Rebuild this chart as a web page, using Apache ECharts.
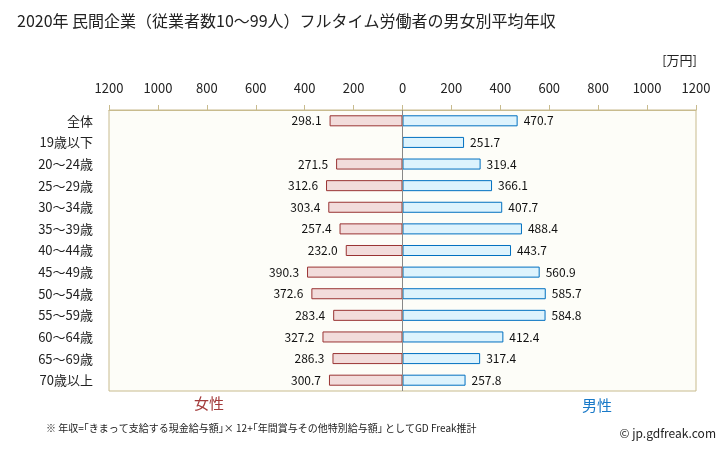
<!DOCTYPE html>
<html><head><meta charset="utf-8">
<script src="https://cdn.jsdelivr.net/npm/echarts@6/dist/echarts.min.js"></script>
<style>html,body{margin:0;padding:0;background:#fff}#c{width:728px;height:451px}</style>
</head><body><div id="c"></div>
<script>
const categories = ['全体','19歳以下','20～24歳','25～29歳','30～34歳','35～39歳','40～44歳','45～49歳','50～54歳','55～59歳','60～64歳','65～69歳','70歳以上'];
const female = [298.1, null, 271.5, 312.6, 303.4, 257.4, 232.0, 390.3, 372.6, 283.4, 327.2, 286.3, 300.7];
const male = [470.7, 251.7, 319.4, 366.1, 407.7, 488.4, 443.7, 560.9, 585.7, 584.8, 412.4, 317.4, 257.8];
const axisMax = 1200;
const axisStep = 200;

const FONT = '"Noto Sans CJK JP", "Noto Sans", sans-serif';
const chart = echarts.init(document.getElementById('c'));
chart.setOption({
  animation: false,
  backgroundColor: '#ffffff',
  textStyle: { fontFamily: FONT },
  grid: { left: 109, right: 32, top: 110, bottom: 60, show: true, backgroundColor: '#fdfdf8', borderColor: '#c8bb8e', borderWidth: 1 },
  xAxis: {
    type: 'value', position: 'top', min: -axisMax, max: axisMax, interval: axisStep,
    axisLine: { show: true, lineStyle: { color: '#c8bb8e' } },
    axisTick: { show: true, length: 5, lineStyle: { color: '#c8bb8e' } },
    splitLine: { show: false },
    axisLabel: { color: '#222', fontSize: 13, margin: 15, fontFamily: FONT, formatter: v => String(Math.abs(v)) }
  },
  yAxis: {
    type: 'category', data: categories, inverse: true,
    axisLine: { show: false }, axisTick: { show: false },
    axisLabel: { color: '#222', fontSize: 13, margin: 16, fontFamily: FONT }
  },
  series: [
    {
      name: '女性', type: 'bar', barWidth: '51%', barGap: '-100%',
      data: female.map(v => v == null ? null : -v),
      itemStyle: { color: '#f2dcdb', borderColor: '#993333', borderWidth: 1 },
      label: { show: true, position: 'left', distance: 8, color: '#111', fontSize: 12, fontFamily: FONT,
        formatter: p => p.value == null ? '' : Math.abs(p.value).toFixed(1) },
      markLine: { silent: true, symbol: 'none', label: { show: false },
        lineStyle: { color: '#888', type: 'solid', width: 1 }, data: [{ xAxis: 0 }] },
      z: 3
    },
    {
      name: '男性', type: 'bar', barWidth: '51%',
      data: male,
      itemStyle: { color: '#ddf3fd', borderColor: '#0070c0', borderWidth: 1 },
      label: { show: true, position: 'right', distance: 6, color: '#111', fontSize: 12, fontFamily: FONT,
        formatter: p => Number(p.value).toFixed(1) },
      z: 3
    }
  ],
  graphic: [
    { type: 'text', left: 17, top: 13, style: { text: '2020年 民間企業（従業者数10～99人）フルタイム労働者の男女別平均年収', font: '16px ' + FONT, fill: '#222' } },
    { type: 'text', right: 31, top: 54, style: { text: '[万円]', font: '13px ' + FONT, fill: '#222' } },
    { type: 'text', left: 194, top: 396, style: { text: '女性', font: '15px ' + FONT, fill: '#a33a3a' } },
    { type: 'text', left: 582, top: 398, style: { text: '男性', font: '15px ' + FONT, fill: '#1a7ac8' } },
    { type: 'text', left: 46, top: 423, style: { text: '※ 年収=｢きまって支給する現金給与額｣× 12+｢年間賞与その他特別給与額｣ としてGD Freak推計', font: '10px ' + FONT, fill: '#222' } },
    { type: 'text', right: 12, top: 427, style: { text: '© jp.gdfreak.com', font: '12px ' + FONT, fill: '#222' } }
  ]
});
</script></body></html>
